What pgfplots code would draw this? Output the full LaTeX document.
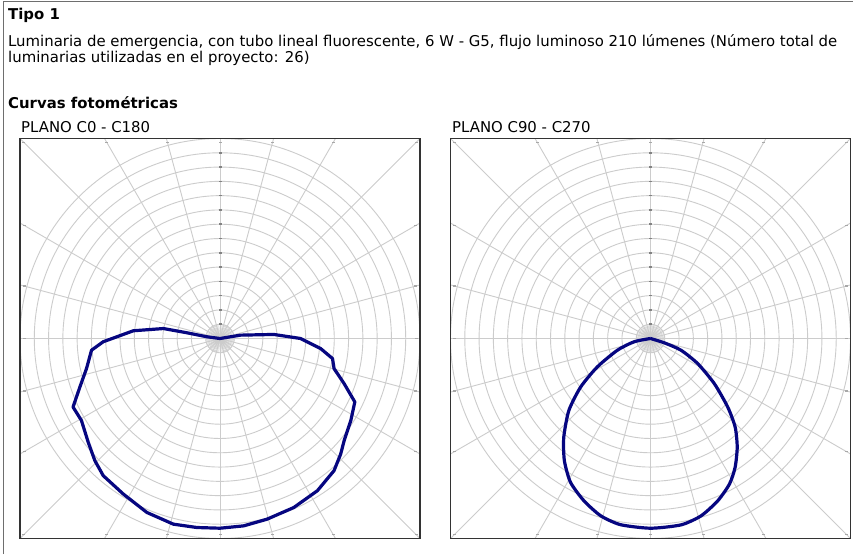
\documentclass[border=0pt]{standalone}
\usepackage{fontspec}
\setmainfont{DejaVu Sans}
\usepackage{pgfplots}
\pgfplotsset{compat=1.18}
\definecolor{gridgray}{RGB}{204,204,204}
\definecolor{framegray}{RGB}{110,110,110}
\definecolor{curveblue}{RGB}{6,6,128}
\definecolor{markgray}{RGB}{130,130,130}
\newcommand{\polargrid}[2]{%
  \begin{scope}[shift={(#1pt,#2pt)}]
    \clip (-200pt,-200pt) rectangle (200pt,200pt);
    \foreach \r in {1,...,14}{\draw[gridgray, line width=0.9pt] (0,0) circle[radius=\r*14.2857pt];}
    \foreach \a in {0,15,...,345}{\draw[gridgray, line width=0.9pt] (0,0) -- (\a:300pt);}
    \foreach \a in {0,5,...,355}{\draw[gridgray, line width=0.45pt] (0,0) -- (\a:14.2857pt);}
    \foreach \r in {1,...,13}{\fill[markgray] (-1.5pt,{\r*14.2857pt-0.8pt}) rectangle (1.5pt,{\r*14.2857pt+0.8pt});}
    \foreach \a in {0,15,...,345}{%
      \pgfmathsetmacro{\t}{196/max(abs(cos(\a)),abs(sin(\a)))}%
      \fill[markgray!70] (\a:\t pt) ++(-1.5pt,-0.7pt) rectangle ++(3pt,1.4pt);}
  \end{scope}}
\pgfplotsset{polarbox/.style={anchor=south west, width=400pt, height=400pt, scale only axis,
  xmin=-14, xmax=14, ymin=-14, ymax=14, ticks=none,
  axis line style={line width=1.2pt, black!80}, clip=true}}
\begin{document}
\begin{tikzpicture}[x=1pt,y=1pt]
\path[use as bounding box] (0,0) rectangle (853,554);
\fill[white] (0,0) rectangle (853,554);
\draw[framegray, line width=1.5pt] (3.5,0) -- (3.5,552.5) -- (853,552.5);
\fontsize{14.9pt}{16pt}\selectfont
\node[anchor=base west, inner sep=0pt] at (8,534) {\bfseries Tipo 1};
\node[anchor=base west, inner sep=0pt] at (8,507) {Luminaria de emergencia, con tubo lineal fluorescente, 6 W - G5, flujo luminoso 210 lúmenes (Número total de};
\node[anchor=base west, inner sep=0pt] at (8,491) {luminarias utilizadas en el proyecto: 26)};
\node[anchor=base west, inner sep=0pt] at (8,445) {\bfseries Curvas fotométricas};
\node[anchor=base west, inner sep=0pt] at (21,421) {PLANO C0 - C180};
\node[anchor=base west, inner sep=0pt] at (452,421) {PLANO C90 - C270};
\polargrid{220}{215.5}
\polargrid{650.5}{215.5}
\begin{axis}[polarbox, at={(20pt,15.5pt)}]
\addplot[curveblue, line width=3.2pt, data cs=polar, line join=round] coordinates {
(90,0) (9.3,1.45) (4.3,3.78) (0,5.64) (-5.7,7.08) (-10.1,8.0) (-14.8,8.26)
(-20,9.25) (-25.2,10.43) (-32.1,10.81) (-39.4,11.25) (-43.7,11.69) (-49.2,12.22)
(-57.4,12.65) (-66.4,12.91) (-75.4,13.07) (-82.8,13.22) (-90,13.28) (-97,13.33)
(-104.1,13.4) (-112.8,13.21) (-121.9,12.82) (-130.4,12.61) (-135.7,12.24)
(-141.8,11.74) (-149.4,11.27) (-155,11.35) (-160.9,10.38) (-167.3,9.58)
(-174.8,9.03) (-178.4,8.18) (-185.1,6.09) (-190,4.02) (-189.8,2.35) (-187.5,0.92) (90,0)
};
\end{axis}
\begin{axis}[polarbox, at={(450.5pt,15.5pt)}]
\addplot[curveblue, line width=3.2pt, data cs=polar, smooth, tension=0.4, line join=round] coordinates {
(90,0) (-17.4,1.01) (-21,2.28) (-28,3.74) (-35.3,5.48) (-41.6,7.23) (-46.3,8.58)
(-51.4,9.73) (-56.7,10.79) (-61.5,11.59) (-67.5,12.30) (-74.1,12.91) (-80.7,13.22)
(-90,13.28) (-99.2,13.2) (-105.7,12.89) (-112.3,12.28) (-119.1,11.52) (-125.2,10.46)
(-131.3,9.20) (-138.6,7.62) (-145.2,5.96) (-151.9,4.22) (-160.5,2.46) (-168.7,1.17) (90,0)
};
\end{axis}
\end{tikzpicture}
\end{document}
